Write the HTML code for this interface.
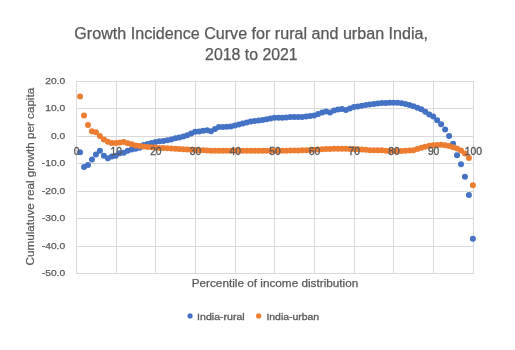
<!DOCTYPE html>
<html><head><meta charset="utf-8"><style>
html,body{margin:0;padding:0;background:#fff;width:515px;height:350px;overflow:hidden}
svg{display:block;will-change:transform}
text{font-family:"Liberation Sans",sans-serif;fill:#595959}
</style></head><body>
<svg width="515" height="350" viewBox="0 0 515 350">
<rect width="515" height="350" fill="#fff"/>
<g stroke="#D9D9D9" stroke-width="1" shape-rendering="crispEdges"><line x1="76.50" y1="81.00" x2="76.50" y2="273.50"/><line x1="116.18" y1="81.00" x2="116.18" y2="273.50"/><line x1="155.86" y1="81.00" x2="155.86" y2="273.50"/><line x1="195.54" y1="81.00" x2="195.54" y2="273.50"/><line x1="235.22" y1="81.00" x2="235.22" y2="273.50"/><line x1="274.90" y1="81.00" x2="274.90" y2="273.50"/><line x1="314.58" y1="81.00" x2="314.58" y2="273.50"/><line x1="354.26" y1="81.00" x2="354.26" y2="273.50"/><line x1="393.94" y1="81.00" x2="393.94" y2="273.50"/><line x1="433.62" y1="81.00" x2="433.62" y2="273.50"/><line x1="473.30" y1="81.00" x2="473.30" y2="273.50"/><line x1="76.50" y1="81.00" x2="473.30" y2="81.00"/><line x1="76.50" y1="108.50" x2="473.30" y2="108.50"/><line x1="76.50" y1="136.00" x2="473.30" y2="136.00"/><line x1="76.50" y1="163.50" x2="473.30" y2="163.50"/><line x1="76.50" y1="191.00" x2="473.30" y2="191.00"/><line x1="76.50" y1="218.50" x2="473.30" y2="218.50"/><line x1="76.50" y1="246.00" x2="473.30" y2="246.00"/><line x1="76.50" y1="273.50" x2="473.30" y2="273.50"/></g>
<g fill="#4472C4"><circle cx="80.07" cy="152.22" r="3.0"/><circle cx="84.04" cy="167.07" r="3.0"/><circle cx="88.00" cy="164.88" r="3.0"/><circle cx="91.97" cy="159.38" r="3.0"/><circle cx="95.94" cy="154.43" r="3.0"/><circle cx="99.91" cy="150.85" r="3.0"/><circle cx="103.88" cy="155.80" r="3.0"/><circle cx="107.84" cy="158.28" r="3.0"/><circle cx="111.81" cy="156.62" r="3.0"/><circle cx="115.78" cy="155.80" r="3.0"/><circle cx="119.75" cy="153.19" r="3.0"/><circle cx="123.72" cy="152.78" r="3.0"/><circle cx="127.68" cy="150.71" r="3.0"/><circle cx="131.65" cy="149.47" r="3.0"/><circle cx="135.62" cy="148.65" r="3.0"/><circle cx="139.59" cy="147.82" r="3.0"/><circle cx="143.56" cy="145.07" r="3.0"/><circle cx="147.52" cy="143.93" r="3.0"/><circle cx="151.49" cy="143.11" r="3.0"/><circle cx="155.46" cy="141.93" r="3.0"/><circle cx="159.43" cy="141.15" r="3.0"/><circle cx="163.40" cy="140.95" r="3.0"/><circle cx="167.36" cy="140.35" r="3.0"/><circle cx="171.33" cy="139.48" r="3.0"/><circle cx="175.30" cy="138.33" r="3.0"/><circle cx="179.27" cy="137.60" r="3.0"/><circle cx="183.24" cy="136.55" r="3.0"/><circle cx="187.20" cy="135.18" r="3.0"/><circle cx="191.17" cy="133.53" r="3.0"/><circle cx="195.14" cy="131.81" r="3.0"/><circle cx="199.11" cy="131.49" r="3.0"/><circle cx="203.08" cy="130.66" r="3.0"/><circle cx="207.04" cy="130.25" r="3.0"/><circle cx="211.01" cy="131.13" r="3.0"/><circle cx="214.98" cy="128.99" r="3.0"/><circle cx="218.95" cy="127.06" r="3.0"/><circle cx="222.92" cy="127.06" r="3.0"/><circle cx="226.88" cy="126.79" r="3.0"/><circle cx="230.85" cy="126.38" r="3.0"/><circle cx="234.82" cy="125.62" r="3.0"/><circle cx="238.79" cy="124.42" r="3.0"/><circle cx="242.76" cy="123.40" r="3.0"/><circle cx="246.72" cy="122.43" r="3.0"/><circle cx="250.69" cy="121.52" r="3.0"/><circle cx="254.66" cy="120.97" r="3.0"/><circle cx="258.63" cy="120.61" r="3.0"/><circle cx="262.60" cy="119.97" r="3.0"/><circle cx="266.56" cy="119.26" r="3.0"/><circle cx="270.53" cy="118.54" r="3.0"/><circle cx="274.50" cy="117.85" r="3.0"/><circle cx="278.47" cy="117.85" r="3.0"/><circle cx="282.44" cy="117.72" r="3.0"/><circle cx="286.40" cy="117.44" r="3.0"/><circle cx="290.37" cy="116.98" r="3.0"/><circle cx="294.34" cy="116.89" r="3.0"/><circle cx="298.31" cy="116.92" r="3.0"/><circle cx="302.28" cy="117.02" r="3.0"/><circle cx="306.24" cy="116.53" r="3.0"/><circle cx="310.21" cy="115.96" r="3.0"/><circle cx="314.18" cy="115.38" r="3.0"/><circle cx="318.15" cy="114.00" r="3.0"/><circle cx="322.12" cy="112.62" r="3.0"/><circle cx="326.08" cy="111.53" r="3.0"/><circle cx="330.05" cy="112.62" r="3.0"/><circle cx="334.02" cy="110.42" r="3.0"/><circle cx="337.99" cy="109.60" r="3.0"/><circle cx="341.96" cy="109.10" r="3.0"/><circle cx="345.92" cy="109.99" r="3.0"/><circle cx="349.89" cy="108.50" r="3.0"/><circle cx="353.86" cy="107.12" r="3.0"/><circle cx="357.83" cy="106.54" r="3.0"/><circle cx="361.80" cy="105.75" r="3.0"/><circle cx="365.76" cy="104.89" r="3.0"/><circle cx="369.73" cy="104.55" r="3.0"/><circle cx="373.70" cy="104.04" r="3.0"/><circle cx="377.67" cy="103.55" r="3.0"/><circle cx="381.64" cy="103.12" r="3.0"/><circle cx="385.60" cy="102.94" r="3.0"/><circle cx="389.57" cy="102.86" r="3.0"/><circle cx="393.54" cy="102.86" r="3.0"/><circle cx="397.51" cy="102.86" r="3.0"/><circle cx="401.48" cy="103.31" r="3.0"/><circle cx="405.44" cy="104.04" r="3.0"/><circle cx="409.41" cy="105.12" r="3.0"/><circle cx="413.38" cy="106.27" r="3.0"/><circle cx="417.35" cy="107.73" r="3.0"/><circle cx="421.32" cy="109.19" r="3.0"/><circle cx="425.28" cy="111.80" r="3.0"/><circle cx="429.25" cy="114.41" r="3.0"/><circle cx="433.22" cy="116.61" r="3.0"/><circle cx="437.19" cy="120.33" r="3.0"/><circle cx="441.16" cy="124.31" r="3.0"/><circle cx="445.12" cy="129.54" r="3.0"/><circle cx="449.09" cy="136.00" r="3.0"/><circle cx="453.06" cy="143.84" r="3.0"/><circle cx="457.03" cy="155.25" r="3.0"/><circle cx="461.00" cy="164.19" r="3.0"/><circle cx="464.96" cy="176.84" r="3.0"/><circle cx="468.93" cy="194.99" r="3.0"/><circle cx="472.90" cy="238.85" r="3.0"/></g>
<g fill="#ED7D31"><circle cx="80.07" cy="96.40" r="3.0"/><circle cx="84.04" cy="115.51" r="3.0"/><circle cx="88.00" cy="125.11" r="3.0"/><circle cx="91.97" cy="131.19" r="3.0"/><circle cx="95.94" cy="132.21" r="3.0"/><circle cx="99.91" cy="136.00" r="3.0"/><circle cx="103.88" cy="139.57" r="3.0"/><circle cx="107.84" cy="141.78" r="3.0"/><circle cx="111.81" cy="142.88" r="3.0"/><circle cx="115.78" cy="142.88" r="3.0"/><circle cx="119.75" cy="142.60" r="3.0"/><circle cx="123.72" cy="142.05" r="3.0"/><circle cx="127.68" cy="143.15" r="3.0"/><circle cx="131.65" cy="144.25" r="3.0"/><circle cx="135.62" cy="145.62" r="3.0"/><circle cx="139.59" cy="146.10" r="3.0"/><circle cx="143.56" cy="146.58" r="3.0"/><circle cx="147.52" cy="146.96" r="3.0"/><circle cx="151.49" cy="147.29" r="3.0"/><circle cx="155.46" cy="147.62" r="3.0"/><circle cx="159.43" cy="147.90" r="3.0"/><circle cx="163.40" cy="148.08" r="3.0"/><circle cx="167.36" cy="148.26" r="3.0"/><circle cx="171.33" cy="148.49" r="3.0"/><circle cx="175.30" cy="148.77" r="3.0"/><circle cx="179.27" cy="149.06" r="3.0"/><circle cx="183.24" cy="149.30" r="3.0"/><circle cx="187.20" cy="149.50" r="3.0"/><circle cx="191.17" cy="149.71" r="3.0"/><circle cx="195.14" cy="149.91" r="3.0"/><circle cx="199.11" cy="150.13" r="3.0"/><circle cx="203.08" cy="150.35" r="3.0"/><circle cx="207.04" cy="150.57" r="3.0"/><circle cx="211.01" cy="150.67" r="3.0"/><circle cx="214.98" cy="150.76" r="3.0"/><circle cx="218.95" cy="150.85" r="3.0"/><circle cx="222.92" cy="150.84" r="3.0"/><circle cx="226.88" cy="150.83" r="3.0"/><circle cx="230.85" cy="150.82" r="3.0"/><circle cx="234.82" cy="150.81" r="3.0"/><circle cx="238.79" cy="150.80" r="3.0"/><circle cx="242.76" cy="150.79" r="3.0"/><circle cx="246.72" cy="150.78" r="3.0"/><circle cx="250.69" cy="150.77" r="3.0"/><circle cx="254.66" cy="150.76" r="3.0"/><circle cx="258.63" cy="150.75" r="3.0"/><circle cx="262.60" cy="150.74" r="3.0"/><circle cx="266.56" cy="150.73" r="3.0"/><circle cx="270.53" cy="150.72" r="3.0"/><circle cx="274.50" cy="150.71" r="3.0"/><circle cx="278.47" cy="150.69" r="3.0"/><circle cx="282.44" cy="150.67" r="3.0"/><circle cx="286.40" cy="150.64" r="3.0"/><circle cx="290.37" cy="150.62" r="3.0"/><circle cx="294.34" cy="150.60" r="3.0"/><circle cx="298.31" cy="150.57" r="3.0"/><circle cx="302.28" cy="150.37" r="3.0"/><circle cx="306.24" cy="150.16" r="3.0"/><circle cx="310.21" cy="149.92" r="3.0"/><circle cx="314.18" cy="149.68" r="3.0"/><circle cx="318.15" cy="149.43" r="3.0"/><circle cx="322.12" cy="149.25" r="3.0"/><circle cx="326.08" cy="149.12" r="3.0"/><circle cx="330.05" cy="148.98" r="3.0"/><circle cx="334.02" cy="148.84" r="3.0"/><circle cx="337.99" cy="148.71" r="3.0"/><circle cx="341.96" cy="148.71" r="3.0"/><circle cx="345.92" cy="148.82" r="3.0"/><circle cx="349.89" cy="148.93" r="3.0"/><circle cx="353.86" cy="149.08" r="3.0"/><circle cx="357.83" cy="149.24" r="3.0"/><circle cx="361.80" cy="149.49" r="3.0"/><circle cx="365.76" cy="149.86" r="3.0"/><circle cx="369.73" cy="150.23" r="3.0"/><circle cx="373.70" cy="150.30" r="3.0"/><circle cx="377.67" cy="150.30" r="3.0"/><circle cx="381.64" cy="150.33" r="3.0"/><circle cx="385.60" cy="150.65" r="3.0"/><circle cx="389.57" cy="150.97" r="3.0"/><circle cx="393.54" cy="151.12" r="3.0"/><circle cx="397.51" cy="151.12" r="3.0"/><circle cx="401.48" cy="151.12" r="3.0"/><circle cx="405.44" cy="150.82" r="3.0"/><circle cx="409.41" cy="150.47" r="3.0"/><circle cx="413.38" cy="150.13" r="3.0"/><circle cx="417.35" cy="149.12" r="3.0"/><circle cx="421.32" cy="147.82" r="3.0"/><circle cx="425.28" cy="146.74" r="3.0"/><circle cx="429.25" cy="145.81" r="3.0"/><circle cx="433.22" cy="145.35" r="3.0"/><circle cx="437.19" cy="145.01" r="3.0"/><circle cx="441.16" cy="144.86" r="3.0"/><circle cx="445.12" cy="145.29" r="3.0"/><circle cx="449.09" cy="146.09" r="3.0"/><circle cx="453.06" cy="147.28" r="3.0"/><circle cx="457.03" cy="148.56" r="3.0"/><circle cx="461.00" cy="150.39" r="3.0"/><circle cx="464.96" cy="153.39" r="3.0"/><circle cx="468.93" cy="158.00" r="3.0"/><circle cx="472.90" cy="185.22" r="3.0"/></g>
<g font-size="9.7" stroke="#595959" stroke-width="0.25"><text x="45.19" y="83.70" textLength="20.01" lengthAdjust="spacingAndGlyphs">20.0</text><text x="45.19" y="111.20" textLength="20.01" lengthAdjust="spacingAndGlyphs">10.0</text><text x="50.91" y="138.70" textLength="14.29" lengthAdjust="spacingAndGlyphs">0.0</text><text x="41.77" y="166.20" textLength="23.43" lengthAdjust="spacingAndGlyphs">-10.0</text><text x="41.77" y="193.70" textLength="23.43" lengthAdjust="spacingAndGlyphs">-20.0</text><text x="41.77" y="221.20" textLength="23.43" lengthAdjust="spacingAndGlyphs">-30.0</text><text x="41.77" y="248.70" textLength="23.43" lengthAdjust="spacingAndGlyphs">-40.0</text><text x="41.77" y="276.20" textLength="23.43" lengthAdjust="spacingAndGlyphs">-50.0</text></g>
<g font-size="10.3" stroke="#595959" stroke-width="0.35"><text x="76.50" y="154.6" text-anchor="middle">0</text><text x="116.18" y="154.6" text-anchor="middle">10</text><text x="155.86" y="154.6" text-anchor="middle">20</text><text x="195.54" y="154.6" text-anchor="middle">30</text><text x="235.22" y="154.6" text-anchor="middle">40</text><text x="274.90" y="154.6" text-anchor="middle">50</text><text x="314.58" y="154.6" text-anchor="middle">60</text><text x="354.26" y="154.6" text-anchor="middle">70</text><text x="393.94" y="154.6" text-anchor="middle">80</text><text x="433.62" y="154.6" text-anchor="middle">90</text><text x="473.30" y="154.6" text-anchor="middle">100</text></g>
<text x="74.3" y="38.7" font-size="15.8" stroke="#595959" stroke-width="0.25" textLength="353.7" lengthAdjust="spacingAndGlyphs">Growth Incidence Curve for rural and urban India,</text>
<text x="205.1" y="59.9" font-size="15.8" stroke="#595959" stroke-width="0.25" textLength="92.6" lengthAdjust="spacingAndGlyphs">2018 to 2021</text>
<text x="191.7" y="286.9" font-size="11.3" stroke="#595959" stroke-width="0.25" textLength="166.6" lengthAdjust="spacingAndGlyphs">Percentile of income distribution</text>
<text transform="translate(34.3,265.4) rotate(-90)" x="0" y="0" font-size="10" stroke="#595959" stroke-width="0.2" textLength="177.6" lengthAdjust="spacingAndGlyphs">Cumulatuve real growth per capita</text>
<circle cx="190.05" cy="315.9" r="2.6" fill="#4472C4"/>
<text x="197.1" y="319.7" font-size="9.6" stroke="#595959" stroke-width="0.3" textLength="47.6" lengthAdjust="spacingAndGlyphs">India-rural</text>
<circle cx="258.7" cy="315.9" r="2.6" fill="#ED7D31"/>
<text x="266.4" y="319.7" font-size="9.6" stroke="#595959" stroke-width="0.3" textLength="52.8" lengthAdjust="spacingAndGlyphs">India-urban</text>
</svg>
</body></html>
